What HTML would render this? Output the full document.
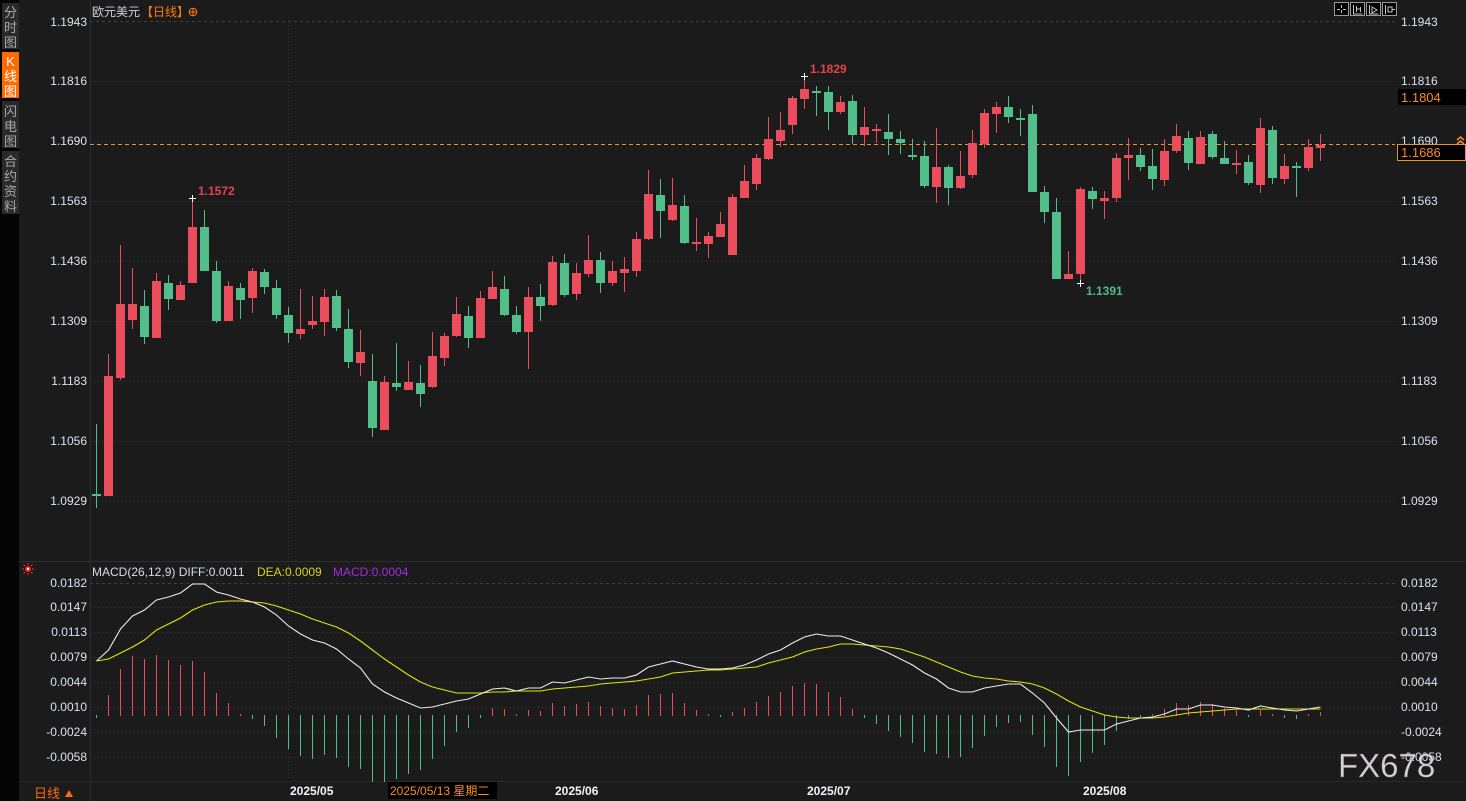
<!DOCTYPE html>
<html><head><meta charset="utf-8">
<style>
html,body{margin:0;padding:0;background:#1b1b1b;}
body{width:1466px;height:801px;overflow:hidden;position:relative;font-family:"Liberation Sans","Noto Sans CJK SC",sans-serif;}
svg{position:absolute;left:0;top:0;}
.r line{stroke:#eb4d5c;stroke-width:1}
.r rect{fill:#eb4d5c}
.g line{stroke:#52be8a;stroke-width:1}
.g rect{fill:#52be8a}
.ax{font-size:12px;fill:#dbe3ee;}
.tab{position:absolute;left:2px;width:17px;background:#2a2a2a;color:#a8a8a8;font-size:13px;line-height:15px;text-align:center;font-family:"Liberation Sans","Noto Sans CJK SC",sans-serif;}
</style></head>
<body>
<svg width="1466" height="801" viewBox="0 0 1466 801" xmlns="http://www.w3.org/2000/svg" font-family="Liberation Sans, Noto Sans CJK SC, sans-serif">
<rect x="0" y="0" width="1466" height="801" fill="#1b1b1b"/>
<rect x="0" y="0" width="19" height="801" fill="#050505"/>
<!-- frame lines -->
<line x1="90.5" y1="0" x2="90.5" y2="801" stroke="#2c2c2c"/>
<line x1="19" y1="561.5" x2="1466" y2="561.5" stroke="#2e2e2e"/>
<line x1="19" y1="781.5" x2="1466" y2="781.5" stroke="#2a2a2a"/>
<!-- price grid -->
<g stroke="#3c3c3c" stroke-width="1">
<line x1="90" y1="21.5" x2="1395" y2="21.5" stroke-dasharray="3 3" stroke="#404040"/>
<g stroke-dasharray="1 3">
<line x1="90" y1="81.5" x2="1395" y2="81.5"/>
<line x1="90" y1="141.5" x2="1395" y2="141.5"/>
<line x1="90" y1="201.5" x2="1395" y2="201.5"/>
<line x1="90" y1="261.5" x2="1395" y2="261.5"/>
<line x1="90" y1="321.5" x2="1395" y2="321.5"/>
<line x1="90" y1="381.5" x2="1395" y2="381.5"/>
<line x1="90" y1="441.5" x2="1395" y2="441.5"/>
<line x1="90" y1="501.5" x2="1395" y2="501.5"/>
<line x1="288.5" y1="21" x2="288.5" y2="781"/>
</g>
<!-- macd grid -->
<line x1="90" y1="583.5" x2="1395" y2="583.5" stroke-dasharray="3 3" stroke="#404040"/>
<g stroke-dasharray="1 3">
<line x1="90" y1="607.5" x2="1395" y2="607.5"/>
<line x1="90" y1="632.5" x2="1395" y2="632.5"/>
<line x1="90" y1="657.5" x2="1395" y2="657.5"/>
<line x1="90" y1="682.5" x2="1395" y2="682.5"/>
<line x1="90" y1="707.5" x2="1395" y2="707.5"/>
<line x1="90" y1="732.5" x2="1395" y2="732.5"/>
<line x1="90" y1="757.5" x2="1395" y2="757.5"/>
</g>
</g>

<!-- left price labels -->
<g class="ax" text-anchor="end">
<text x="87" y="26">1.1943</text>
<text x="87" y="85">1.1816</text>
<text x="87" y="145">1.1690</text>
<text x="87" y="205">1.1563</text>
<text x="87" y="265">1.1436</text>
<text x="87" y="325">1.1309</text>
<text x="87" y="385">1.1183</text>
<text x="87" y="445">1.1056</text>
<text x="87" y="505">1.0929</text>
<text x="87" y="587">0.0182</text>
<text x="87" y="611">0.0147</text>
<text x="87" y="636">0.0113</text>
<text x="87" y="661">0.0079</text>
<text x="87" y="686">0.0044</text>
<text x="87" y="711">0.0010</text>
<text x="87" y="736">-0.0024</text>
<text x="87" y="761">-0.0058</text>
</g>
<!-- right labels -->
<g class="ax">
<text x="1401" y="26">1.1943</text>
<text x="1401" y="85">1.1816</text>
<text x="1401" y="145">1.1690</text>
<text x="1401" y="205">1.1563</text>
<text x="1401" y="265">1.1436</text>
<text x="1401" y="325">1.1309</text>
<text x="1401" y="385">1.1183</text>
<text x="1401" y="445">1.1056</text>
<text x="1401" y="505">1.0929</text>
<text x="1401" y="587">0.0182</text>
<text x="1401" y="611">0.0147</text>
<text x="1401" y="636">0.0113</text>
<text x="1401" y="661">0.0079</text>
<text x="1401" y="686">0.0044</text>
<text x="1401" y="711">0.0010</text>
<text x="1401" y="736">-0.0024</text>
<text x="1401" y="761">-0.0058</text>
</g>

<!-- title -->
<text x="92" y="16" font-size="12" fill="#c9d2de">欧元美元</text>
<text x="141" y="16" font-size="12" fill="#ff7a10">【日线】</text>
<g stroke="#ff7a10" fill="none" stroke-width="1"><circle cx="193" cy="12" r="3.8"/><line x1="189" y1="12" x2="197" y2="12"/><line x1="193" y1="8" x2="193" y2="16"/></g>

<!-- top-right icons -->
<g stroke="#9a9a9a" fill="#000" stroke-width="1">
<rect x="1334.5" y="2.5" width="14" height="13"/>
<rect x="1350.5" y="2.5" width="14" height="13"/>
<rect x="1366.5" y="2.5" width="14" height="13"/>
<rect x="1382.5" y="2.5" width="14" height="13"/>
</g>
<g stroke="#c8c8c8" stroke-width="1" fill="none">
<path d="M1341.5 5v3M1341.5 10v3M1337 9.5h3M1343 9.5h3"/>
<path d="M1353.5 5v9h9M1356.5 6v6M1356.5 9h4M1360.5 7v5"/>
<path d="M1369.5 5v9h9M1372 7l5 3-5 3z"/>
<path d="M1385.5 5v9M1388 7h4v5h-4zM1392 9.5h3"/>
</g>

<!-- orange current price dashed line -->
<line x1="90" y1="144.5" x2="1395" y2="144.5" stroke="#f0922b" stroke-dasharray="4 3"/>

<!-- candles red -->
<g class="r" shape-rendering="crispEdges">
<line x1="108.5" y1="354" x2="108.5" y2="496"/><rect x="104" y="376" width="9" height="120"/>
<line x1="120.5" y1="245" x2="120.5" y2="380"/><rect x="116" y="304" width="9" height="74"/>
<line x1="132.5" y1="268" x2="132.5" y2="329"/><rect x="128" y="304" width="9" height="16"/>
<line x1="156.5" y1="273" x2="156.5" y2="338"/><rect x="152" y="281" width="9" height="57"/>
<line x1="180.5" y1="281" x2="180.5" y2="300"/><rect x="176" y="285" width="9" height="15"/>
<line x1="192.5" y1="198" x2="192.5" y2="283"/><rect x="188" y="227" width="9" height="56"/>
<line x1="228.5" y1="281" x2="228.5" y2="321"/><rect x="224" y="286" width="9" height="35"/>
<line x1="252.5" y1="268" x2="252.5" y2="313"/><rect x="248" y="271" width="9" height="27"/>
<line x1="300.5" y1="289" x2="300.5" y2="339"/><rect x="296" y="329" width="9" height="5"/>
<line x1="312.5" y1="296" x2="312.5" y2="329"/><rect x="308" y="321" width="9" height="4"/>
<line x1="324.5" y1="289" x2="324.5" y2="336"/><rect x="320" y="297" width="9" height="25"/>
<line x1="360.5" y1="330" x2="360.5" y2="376"/><rect x="356" y="352" width="9" height="11"/>
<line x1="384.5" y1="376" x2="384.5" y2="430"/><rect x="380" y="382" width="9" height="48"/>
<line x1="408.5" y1="361" x2="408.5" y2="390"/><rect x="404" y="382" width="9" height="8"/>
<line x1="432.5" y1="332" x2="432.5" y2="388"/><rect x="428" y="356" width="9" height="31"/>
<line x1="444.5" y1="333" x2="444.5" y2="366"/><rect x="440" y="336" width="9" height="22"/>
<line x1="456.5" y1="297" x2="456.5" y2="337"/><rect x="452" y="314" width="9" height="22"/>
<line x1="480.5" y1="291" x2="480.5" y2="338"/><rect x="476" y="298" width="9" height="40"/>
<line x1="492.5" y1="271" x2="492.5" y2="299"/><rect x="488" y="287" width="9" height="12"/>
<line x1="528.5" y1="287" x2="528.5" y2="369"/><rect x="524" y="297" width="9" height="35"/>
<line x1="552.5" y1="256" x2="552.5" y2="306"/><rect x="548" y="262" width="9" height="43"/>
<line x1="576.5" y1="263" x2="576.5" y2="300"/><rect x="572" y="273" width="9" height="21"/>
<line x1="588.5" y1="235" x2="588.5" y2="277"/><rect x="584" y="260" width="9" height="14"/>
<line x1="612.5" y1="261" x2="612.5" y2="286"/><rect x="608" y="271" width="9" height="12"/>
<line x1="624.5" y1="257" x2="624.5" y2="292"/><rect x="620" y="269" width="9" height="4"/>
<line x1="636.5" y1="232" x2="636.5" y2="277"/><rect x="632" y="239" width="9" height="32"/>
<line x1="648.5" y1="170" x2="648.5" y2="240"/><rect x="644" y="194" width="9" height="45"/>
<line x1="672.5" y1="178" x2="672.5" y2="221"/><rect x="668" y="205" width="9" height="15"/>
<line x1="696.5" y1="218" x2="696.5" y2="251"/><rect x="692" y="242" width="9" height="2"/>
<line x1="708.5" y1="232" x2="708.5" y2="258"/><rect x="704" y="236" width="9" height="8"/>
<line x1="720.5" y1="212" x2="720.5" y2="237"/><rect x="716" y="224" width="9" height="13"/>
<line x1="732.5" y1="194" x2="732.5" y2="255"/><rect x="728" y="197" width="9" height="58"/>
<line x1="744.5" y1="165" x2="744.5" y2="198"/><rect x="740" y="181" width="9" height="17"/>
<line x1="756.5" y1="154" x2="756.5" y2="190"/><rect x="752" y="158" width="9" height="26"/>
<line x1="768.5" y1="117" x2="768.5" y2="160"/><rect x="764" y="139" width="9" height="20"/>
<line x1="780.5" y1="112" x2="780.5" y2="147"/><rect x="776" y="130" width="9" height="11"/>
<line x1="792.5" y1="96" x2="792.5" y2="134"/><rect x="788" y="98" width="9" height="27"/>
<line x1="804.5" y1="76" x2="804.5" y2="109"/><rect x="800" y="89" width="9" height="10"/>
<line x1="840.5" y1="96" x2="840.5" y2="114"/><rect x="836" y="102" width="9" height="10"/>
<line x1="864.5" y1="107" x2="864.5" y2="146"/><rect x="860" y="127" width="9" height="8"/>
<line x1="876.5" y1="124" x2="876.5" y2="143"/><rect x="872" y="129" width="9" height="2"/>
<line x1="936.5" y1="128" x2="936.5" y2="203"/><rect x="932" y="167" width="9" height="20"/>
<line x1="960.5" y1="151" x2="960.5" y2="189"/><rect x="956" y="176" width="9" height="12"/>
<line x1="972.5" y1="130" x2="972.5" y2="178"/><rect x="968" y="143" width="9" height="32"/>
<line x1="984.5" y1="109" x2="984.5" y2="148"/><rect x="980" y="113" width="9" height="31"/>
<line x1="996.5" y1="102" x2="996.5" y2="133"/><rect x="992" y="107" width="9" height="7"/>
<line x1="1068.5" y1="251" x2="1068.5" y2="279"/><rect x="1064" y="274" width="9" height="5"/>
<line x1="1080.5" y1="187" x2="1080.5" y2="283"/><rect x="1076" y="189" width="9" height="85"/>
<line x1="1104.5" y1="191" x2="1104.5" y2="219"/><rect x="1100" y="198" width="9" height="3"/>
<line x1="1116.5" y1="153" x2="1116.5" y2="202"/><rect x="1112" y="158" width="9" height="40"/>
<line x1="1128.5" y1="138" x2="1128.5" y2="180"/><rect x="1124" y="155" width="9" height="3"/>
<line x1="1164.5" y1="139" x2="1164.5" y2="186"/><rect x="1160" y="151" width="9" height="29"/>
<line x1="1176.5" y1="124" x2="1176.5" y2="153"/><rect x="1172" y="136" width="9" height="15"/>
<line x1="1200.5" y1="131" x2="1200.5" y2="164"/><rect x="1196" y="137" width="9" height="27"/>
<line x1="1236.5" y1="150" x2="1236.5" y2="174"/><rect x="1232" y="163" width="9" height="2"/>
<line x1="1260.5" y1="118" x2="1260.5" y2="193"/><rect x="1256" y="128" width="9" height="57"/>
<line x1="1284.5" y1="154" x2="1284.5" y2="184"/><rect x="1280" y="166" width="9" height="13"/>
<line x1="1308.5" y1="139" x2="1308.5" y2="171"/><rect x="1304" y="147" width="9" height="21"/>
<line x1="1320.5" y1="134" x2="1320.5" y2="161"/><rect x="1316" y="145" width="9" height="3"/>
</g>
<!-- candles green -->
<g class="g" shape-rendering="crispEdges">
<line x1="96.5" y1="424" x2="96.5" y2="508"/><rect x="92" y="494" width="9" height="2"/>
<line x1="144.5" y1="290" x2="144.5" y2="344"/><rect x="140" y="306" width="9" height="31"/>
<line x1="168.5" y1="275" x2="168.5" y2="310"/><rect x="164" y="283" width="9" height="16"/>
<line x1="204.5" y1="210" x2="204.5" y2="271"/><rect x="200" y="227" width="9" height="44"/>
<line x1="216.5" y1="261" x2="216.5" y2="323"/><rect x="212" y="271" width="9" height="50"/>
<line x1="240.5" y1="283" x2="240.5" y2="319"/><rect x="236" y="288" width="9" height="12"/>
<line x1="264.5" y1="269" x2="264.5" y2="294"/><rect x="260" y="272" width="9" height="15"/>
<line x1="276.5" y1="280" x2="276.5" y2="319"/><rect x="272" y="288" width="9" height="27"/>
<line x1="288.5" y1="307" x2="288.5" y2="343"/><rect x="284" y="315" width="9" height="18"/>
<line x1="336.5" y1="290" x2="336.5" y2="331"/><rect x="332" y="296" width="9" height="32"/>
<line x1="348.5" y1="309" x2="348.5" y2="368"/><rect x="344" y="329" width="9" height="33"/>
<line x1="372.5" y1="354" x2="372.5" y2="437"/><rect x="368" y="381" width="9" height="47"/>
<line x1="396.5" y1="343" x2="396.5" y2="391"/><rect x="392" y="383" width="9" height="4"/>
<line x1="420.5" y1="365" x2="420.5" y2="407"/><rect x="416" y="383" width="9" height="11"/>
<line x1="468.5" y1="306" x2="468.5" y2="348"/><rect x="464" y="316" width="9" height="22"/>
<line x1="504.5" y1="276" x2="504.5" y2="316"/><rect x="500" y="289" width="9" height="26"/>
<line x1="516.5" y1="306" x2="516.5" y2="334"/><rect x="512" y="315" width="9" height="17"/>
<line x1="540.5" y1="284" x2="540.5" y2="321"/><rect x="536" y="297" width="9" height="9"/>
<line x1="564.5" y1="254" x2="564.5" y2="297"/><rect x="560" y="263" width="9" height="32"/>
<line x1="600.5" y1="252" x2="600.5" y2="293"/><rect x="596" y="260" width="9" height="23"/>
<line x1="660.5" y1="179" x2="660.5" y2="238"/><rect x="656" y="195" width="9" height="16"/>
<line x1="684.5" y1="195" x2="684.5" y2="244"/><rect x="680" y="206" width="9" height="37"/>
<line x1="816.5" y1="86" x2="816.5" y2="116"/><rect x="812" y="91" width="9" height="2"/>
<line x1="828.5" y1="86" x2="828.5" y2="130"/><rect x="824" y="92" width="9" height="20"/>
<line x1="852.5" y1="95" x2="852.5" y2="144"/><rect x="848" y="101" width="9" height="34"/>
<line x1="888.5" y1="114" x2="888.5" y2="155"/><rect x="884" y="132" width="9" height="7"/>
<line x1="900.5" y1="131" x2="900.5" y2="154"/><rect x="896" y="139" width="9" height="4"/>
<line x1="912.5" y1="139" x2="912.5" y2="160"/><rect x="908" y="155" width="9" height="2"/>
<line x1="924.5" y1="141" x2="924.5" y2="188"/><rect x="920" y="156" width="9" height="30"/>
<line x1="948.5" y1="165" x2="948.5" y2="205"/><rect x="944" y="167" width="9" height="21"/>
<line x1="1008.5" y1="96" x2="1008.5" y2="123"/><rect x="1004" y="107" width="9" height="10"/>
<line x1="1020.5" y1="109" x2="1020.5" y2="136"/><rect x="1016" y="118" width="9" height="2"/>
<line x1="1032.5" y1="105" x2="1032.5" y2="192"/><rect x="1028" y="114" width="9" height="78"/>
<line x1="1044.5" y1="186" x2="1044.5" y2="223"/><rect x="1040" y="192" width="9" height="20"/>
<line x1="1056.5" y1="198" x2="1056.5" y2="279"/><rect x="1052" y="212" width="9" height="67"/>
<line x1="1092.5" y1="187" x2="1092.5" y2="209"/><rect x="1088" y="191" width="9" height="8"/>
<line x1="1140.5" y1="148" x2="1140.5" y2="171"/><rect x="1136" y="155" width="9" height="12"/>
<line x1="1152.5" y1="149" x2="1152.5" y2="190"/><rect x="1148" y="166" width="9" height="13"/>
<line x1="1188.5" y1="131" x2="1188.5" y2="170"/><rect x="1184" y="138" width="9" height="25"/>
<line x1="1212.5" y1="131" x2="1212.5" y2="159"/><rect x="1208" y="134" width="9" height="23"/>
<line x1="1224.5" y1="141" x2="1224.5" y2="164"/><rect x="1220" y="158" width="9" height="6"/>
<line x1="1248.5" y1="155" x2="1248.5" y2="185"/><rect x="1244" y="162" width="9" height="21"/>
<line x1="1272.5" y1="126" x2="1272.5" y2="184"/><rect x="1268" y="130" width="9" height="48"/>
<line x1="1296.5" y1="162" x2="1296.5" y2="197"/><rect x="1292" y="166" width="9" height="2"/>
</g>

<!-- high/low markers -->
<g stroke="#ffffff" stroke-width="1" shape-rendering="crispEdges">
<path d="M189 198.5h7M192.5 195v7"/>
<path d="M801 76.5h7M804.5 73v7"/>
<path d="M1077 283.5h7M1080.5 280v7"/>
</g>
<text x="198" y="195" font-size="12" font-weight="bold" fill="#e2434f">1.1572</text>
<text x="810" y="73" font-size="12" font-weight="bold" fill="#e2434f">1.1829</text>
<text x="1086" y="295" font-size="12" font-weight="bold" fill="#55b98a">1.1391</text>

<!-- right price boxes -->
<rect x="1398" y="89" width="68" height="16" fill="#000"/>
<text x="1401" y="102" font-size="13" fill="#ff8a1a">1.1804</text>
<rect x="1397.5" y="144.5" width="68" height="16" fill="#000" stroke="#f0922b"/>
<text x="1401" y="157" font-size="13" fill="#ff8a1a">1.1686</text>
<g stroke="#f0922b" stroke-width="1.5" fill="none"><path d="M1457 140l3.5-3 3.5 3M1457 144l3.5-3 3.5 3"/></g>

<!-- MACD legend -->
<g transform="translate(28,569)">
<circle r="3" fill="#ff2020"/><circle r="1.2" fill="#fff"/>
<g stroke="#ff3030" stroke-width="1"><path d="M-6 0h2M4 0h2M0 -6v2M0 4v2M-4.5 -4.5l1.5 1.5M3 3l1.5 1.5M-4.5 4.5l1.5-1.5M3 -3l1.5-1.5"/></g>
</g>
<text x="92" y="576" font-size="12" fill="#d6dde8">MACD(26,12,9)  DIFF:0.0011</text>
<text x="257" y="576" font-size="12" fill="#d4d41a">DEA:0.0009</text>
<text x="333" y="576" font-size="12" fill="#a22ce0">MACD:0.0004</text>

<!-- MACD histogram -->
<path stroke="#eb4d5c" stroke-width="1" fill="none" shape-rendering="crispEdges" d="M108.5 716V695M120.5 716V669M132.5 716V656M144.5 716V659M156.5 716V655M168.5 716V660M180.5 716V665M192.5 716V661M204.5 716V672M216.5 716V693M228.5 716V703M240.5 716V714M492.5 716V708M504.5 716V709M516.5 716V714M528.5 716V710M540.5 716V711M552.5 716V703M564.5 716V706M576.5 716V704M588.5 716V702M600.5 716V706M612.5 716V708M624.5 716V709M636.5 716V705M648.5 716V695M660.5 716V694M672.5 716V693M684.5 716V703M696.5 716V710M708.5 716V714M732.5 716V712M744.5 716V708M756.5 716V702M768.5 716V696M780.5 716V692M792.5 716V686M804.5 716V683M816.5 716V684M828.5 716V692M840.5 716V697M852.5 716V709M1152.5 716V714M1164.5 716V709M1176.5 716V703M1188.5 716V705M1200.5 716V702M1212.5 716V704M1224.5 716V708M1236.5 716V710M1260.5 716V710M1272.5 716V714M1308.5 716V714M1320.5 716V712"/>
<path stroke="#52be8a" stroke-width="1" fill="none" shape-rendering="crispEdges" d="M96.5 715V718M252.5 715V719M264.5 715V726M276.5 715V738M288.5 715V749M300.5 715V756M312.5 715V759M324.5 715V755M336.5 715V758M348.5 715V767M360.5 715V769M372.5 715V782M384.5 715V782M396.5 715V779M408.5 715V774M420.5 715V770M432.5 715V759M444.5 715V746M456.5 715V732M468.5 715V728M480.5 715V718M720.5 715V717M864.5 715V718M876.5 715V724M888.5 715V731M900.5 715V737M912.5 715V743M924.5 715V752M936.5 715V754M948.5 715V758M960.5 715V757M972.5 715V748M984.5 715V736M996.5 715V727M1008.5 715V723M1020.5 715V722M1032.5 715V735M1044.5 715V747M1056.5 715V767M1068.5 715V776M1080.5 715V762M1092.5 715V753M1104.5 715V745M1116.5 715V731M1128.5 715V719M1140.5 715V717M1248.5 715V717M1284.5 715V718M1296.5 715V719"/>

<!-- DEA yellow -->
<polyline fill="none" stroke="#e3e30a" stroke-width="1.1" points="96.5,661 108.5,659 120.5,653 132.5,647 144.5,640 156.5,630 168.5,624 180.5,618 192.5,610 204.5,605 216.5,602 228.5,601 240.5,601 252.5,602 264.5,603 276.5,606 288.5,610 300.5,614 312.5,619 324.5,623 336.5,627 348.5,633 360.5,641 372.5,650 384.5,659 396.5,667 408.5,675 420.5,682 432.5,687 444.5,690 456.5,693 468.5,693 480.5,693 492.5,692 504.5,692 516.5,691 528.5,691 540.5,691 552.5,689 564.5,688 576.5,687 588.5,686 600.5,684 612.5,683 624.5,682 636.5,681 648.5,679 660.5,677 672.5,673 684.5,672 696.5,671 708.5,670 720.5,670 732.5,669 744.5,668 756.5,667 768.5,663 780.5,660 792.5,657 804.5,652 816.5,649 828.5,647 840.5,644 852.5,644 864.5,645 876.5,646 888.5,647 900.5,649 912.5,653 924.5,657 936.5,662 948.5,667 960.5,672 972.5,676 984.5,678 996.5,679 1008.5,681 1020.5,682 1032.5,684 1044.5,688 1056.5,694 1068.5,701 1080.5,707 1092.5,711 1104.5,715 1116.5,717 1128.5,718 1140.5,718 1152.5,718 1164.5,717 1176.5,715 1188.5,713 1200.5,712 1212.5,711 1224.5,710 1236.5,709 1248.5,709 1260.5,709 1272.5,709 1284.5,709 1296.5,709 1308.5,709 1320.5,709"/>
<!-- DIFF white -->
<polyline fill="none" stroke="#ececec" stroke-width="1.1" points="96.5,661 108.5,650 120.5,629 132.5,616 144.5,610 156.5,600 168.5,597 180.5,593 192.5,584 204.5,584 216.5,592 228.5,595 240.5,599 252.5,602 264.5,607 276.5,615 288.5,626 300.5,634 312.5,640 324.5,643 336.5,649 348.5,659 360.5,668 372.5,684 384.5,692 396.5,698 408.5,703 420.5,708 432.5,707 444.5,704 456.5,701 468.5,699 480.5,694 492.5,689 504.5,688 516.5,691 528.5,688 540.5,688 552.5,682 564.5,683 576.5,680 588.5,677 600.5,679 612.5,678 624.5,678 636.5,675 648.5,667 660.5,664 672.5,661 684.5,664 696.5,667 708.5,669 720.5,669 732.5,668 744.5,665 756.5,660 768.5,654 780.5,650 792.5,643 804.5,637 816.5,634 828.5,636 840.5,636 852.5,640 864.5,644 876.5,648 888.5,653 900.5,659 912.5,665 924.5,673 936.5,679 948.5,688 960.5,692 972.5,692 984.5,688 996.5,686 1008.5,684 1020.5,684 1032.5,693 1044.5,703 1056.5,718 1068.5,732 1080.5,730 1092.5,730 1104.5,730 1116.5,724 1128.5,721 1140.5,718 1152.5,717 1164.5,714 1176.5,709 1188.5,709 1200.5,705 1212.5,705 1224.5,707 1236.5,708 1248.5,710 1260.5,706 1272.5,708 1284.5,710 1296.5,711 1308.5,709 1320.5,707"/>

<!-- bottom axis -->
<g font-size="12" font-weight="bold" fill="#f2f4f8">
<text x="290" y="795">2025/05</text>
<text x="555" y="795">2025/06</text>
<text x="807" y="795">2025/07</text>
<text x="1083" y="795">2025/08</text>
</g>
<rect x="388" y="782" width="109" height="17" fill="#000"/>
<text x="390" y="795" font-size="12" fill="#ff8a1a">2025/05/13 星期二</text>
<text x="34" y="798" font-size="13" fill="#ff6a10">日线</text>
<path d="M65 797l4-7 4 7z" fill="#ff6a10"/>

<!-- watermark -->
<text x="1338" y="777" font-size="33" letter-spacing="0" fill="#dde3ee" fill-opacity="0.92" stroke="#6a5040" stroke-width="0.4">FX678</text>
</svg>

<!-- sidebar tabs -->
<div class="tab" style="top:3px;height:46px;padding-top:2px;box-sizing:border-box;">分<br>时<br>图</div>
<div class="tab" style="top:52px;height:46px;padding-top:2px;box-sizing:border-box;background:#ff6a00;color:#fff;">K<br>线<br>图</div>
<div class="tab" style="top:101px;height:47px;padding-top:3px;box-sizing:border-box;">闪<br>电<br>图</div>
<div class="tab" style="top:151px;height:63px;padding-top:3px;box-sizing:border-box;">合<br>约<br>资<br>料</div>
</body></html>
